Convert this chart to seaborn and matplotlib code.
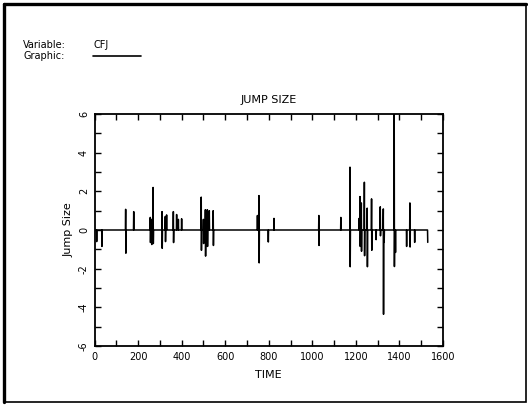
import numpy as np
import pandas as pd
import matplotlib
matplotlib.use("Agg")
import matplotlib.pyplot as plt
import seaborn as sns
from matplotlib.ticker import MultipleLocator
from matplotlib.patches import Rectangle

# ---- data ----
jump_times = [10, 34, 143, 144, 180, 256, 257, 262, 263, 269, 270, 310, 311,
              325, 326, 331, 362, 363, 377, 385, 400, 490, 491, 500, 501,
              509, 510, 518, 519, 527, 545, 546, 748, 755, 756, 798, 824,
              1030, 1031, 1131, 1173, 1174, 1215, 1219, 1220, 1225, 1226,
              1239, 1240, 1252, 1253, 1272, 1273, 1293, 1312, 1313, 1326,
              1327, 1330, 1376, 1377, 1382, 1433, 1448, 1449, 1470, 1530]
jump_sizes = [-0.6, -0.85, 1.07, -1.2, 0.95, 0.65, -0.65, 0.55, -0.75, 2.2, -0.7,
              0.95, -0.95, 0.7, -0.6, 0.78, 0.95, -0.65, 0.8, 0.55, 0.58,
              1.7, -1.05, 0.55, -0.7, 1.05, -1.35, 1.05, -0.85, 1.0, 1.0, -0.8,
              0.75, 1.78, -1.7, -0.62, 0.6, 0.75, -0.8, 0.65, 3.25, -1.9, 0.6,
              1.73, -0.85, 1.4, -1.1, 2.47, -1.33, 1.13, -1.9, 1.61, -1.05,
              -0.5, 1.2, -0.3, 1.09, -4.36, -0.64, 6.5, -1.89, -1.16, -0.85,
              1.4, -0.88, -0.64, -0.64]
n_obs = 1531

x_ticks = [0, 200, 400, 600, 800, 1000, 1200, 1400, 1600]
y_ticks = [-6, -4, -2, 0, 2, 4, 6]

# full series: zero except at jump times
series = np.zeros(n_obs)
series[np.array(jump_times)] = jump_sizes
df = pd.DataFrame({"TIME": np.arange(n_obs), "Jump Size": series})

sns.set_theme(style="white")
plt.rcParams["font.family"] = ["DejaVu Sans"]
plt.rcParams["axes.unicode_minus"] = False
plt.rcParams["text.color"] = "black"
plt.rcParams["axes.labelcolor"] = "black"
plt.rcParams["xtick.color"] = "black"
plt.rcParams["ytick.color"] = "black"

fig = plt.figure(figsize=(5.28, 4.05), dpi=100)
ax = fig.add_axes([0.179, 0.1457, 0.660, 0.5728])

sns.lineplot(data=df, x="TIME", y="Jump Size", ax=ax, color="black",
             linewidth=1.1, estimator=None)

ax.set_xlim(0, 1600)
ax.set_ylim(-6, 6)
ax.set_xticks(x_ticks)
ax.set_yticks(y_ticks)
ax.xaxis.set_minor_locator(MultipleLocator(100))
ax.yaxis.set_minor_locator(MultipleLocator(1))
ax.tick_params(which="both", direction="in", top=True, right=True,
               bottom=True, left=True, color="black", labelcolor="black",
               width=1.0, labelsize=7, pad=4)
ax.tick_params(which="major", length=4)
ax.tick_params(which="minor", length=4)
for lbl in ax.get_yticklabels():
    lbl.set_rotation(90)
    lbl.set_va("center")
for s in ax.spines.values():
    s.set_color("black")
    s.set_linewidth(1.3)

ax.set_xlabel("TIME", fontsize=8, labelpad=6, color="black")
ax.set_ylabel("Jump Size", fontsize=8, labelpad=4, color="black")
ax.set_title("JUMP SIZE", fontsize=8, pad=8, color="black")

# header texts
fig.text(23 / 528, 1 - 45 / 405, "Variable:", fontsize=7, va="center", ha="left")
fig.text(94 / 528, 1 - 45 / 405, "CFJ", fontsize=7, va="center", ha="left")
fig.text(23 / 528, 1 - 56 / 405, "Graphic:", fontsize=7, va="center", ha="left")
fig.add_artist(plt.Line2D([93 / 528, 141 / 528], [1 - 56 / 405, 1 - 56 / 405],
                          color="black", linewidth=1.2))

# figure border: thin frame with heavier left/top edges
fig.add_artist(Rectangle((5 / 528, 1 - 402 / 405), (526 - 5) / 528, (402 - 4) / 405,
                         fill=False, edgecolor="black", linewidth=1.2,
                         transform=fig.transFigure))
fig.add_artist(plt.Line2D([4 / 528, 4 / 528], [1 - 402 / 405, 1 - 4 / 405],
                          color="black", linewidth=2.4))
fig.add_artist(plt.Line2D([4 / 528, 526 / 528], [1 - 4 / 405, 1 - 4 / 405],
                          color="black", linewidth=2.4))

fig.savefig("out.png", dpi=100)
